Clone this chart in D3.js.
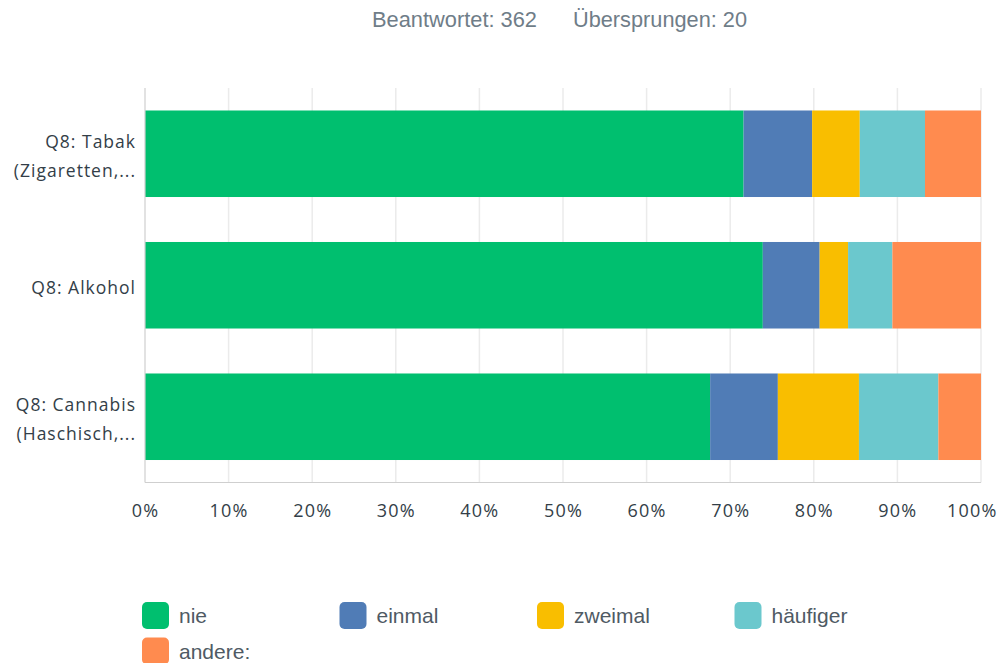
<!DOCTYPE html>
<html><head><meta charset="utf-8">
<script src="https://cdn.jsdelivr.net/npm/d3@7"></script>
<style>body{margin:0;background:#fff;} svg{display:block;}</style>
</head><body>
<svg id="chart" width="1000" height="663"></svg>
<script>
const categories = [["Q8: Tabak","(Zigaretten,..."],["Q8: Alkohol"],["Q8: Cannabis","(Haschisch,..."]];
const seriesNames = ["nie","einmal","zweimal","häufiger","andere:"];
const seriesColors = ["#00bf6f","#507cb6","#f9be00","#6bc8cd","#ff8b4f"];
const nie      = [71.6, 73.9, 67.6];
const einmal   = [8.2, 6.8, 8.1];
const zweimal  = [5.7, 3.4, 9.7];
const haeufiger= [7.8, 5.3, 9.5];
const andere   = [6.7, 10.6, 5.1];
const tickValues = [0,10,20,30,40,50,60,70,80,90,100];
const headerText = ["Beantwortet: 362","Übersprungen: 20"];

const seriesVals = [nie, einmal, zweimal, haeufiger, andere];
const rows = categories.map((c,i)=>{const o={idx:i}; seriesNames.forEach((s,j)=>o[s]=seriesVals[j][i]); return o;});
const stacked = d3.stack().keys(seriesNames)(rows);

const svg = d3.select("#chart");
const x = d3.scaleLinear().domain([0,100]).range([145,981]);
const y = d3.scaleBand().domain(d3.range(categories.length)).range([88,482.5]).paddingInner(0.342).paddingOuter(0.171);

// header
const hdr = svg.append("text").attr("y",27)
  .attr("font-family","Liberation Sans, Arial, sans-serif").attr("font-size",21.5).attr("fill","#6f7d88");
hdr.append("tspan").attr("x",372).attr("textLength",165).attr("lengthAdjust","spacingAndGlyphs").text(headerText[0]);
hdr.append("tspan").attr("x",573).attr("textLength",174).attr("lengthAdjust","spacingAndGlyphs").text(headerText[1]);

// grid
svg.append("g").selectAll("line").data(tickValues.slice(1)).join("line")
  .attr("x1",d=>x(d)).attr("x2",d=>x(d)).attr("y1",88).attr("y2",482.5)
  .attr("stroke","#ebebeb").attr("stroke-width",1.5);

// bars
svg.append("g").selectAll("g").data(stacked).join("g")
  .attr("fill",(d,i)=>seriesColors[i])
  .selectAll("rect").data(d=>d).join("rect")
  .attr("x",d=>x(d[0])).attr("width",d=>x(d[1])-x(d[0]))
  .attr("y",d=>y(d.data.idx)).attr("height",y.bandwidth());

// axes lines
svg.append("line").attr("x1",145).attr("x2",145).attr("y1",88).attr("y2",482.5).attr("stroke","#cfcfcf").attr("stroke-width",1.2);
svg.append("line").attr("x1",145).attr("x2",981).attr("y1",482.5).attr("y2",482.5).attr("stroke","#cfcfcf").attr("stroke-width",1.2);

// x axis labels
const xAxis = d3.axisBottom(x).tickValues(tickValues).tickFormat(d=>d+"%").tickSize(0).tickPadding(0);
const gx = svg.append("g").attr("transform","translate(0,517)").call(xAxis);
gx.select(".domain").remove();
gx.selectAll("text").attr("dy",0).attr("font-family","Open Sans, sans-serif").attr("font-size",18)
  .attr("fill","#333e48").attr("letter-spacing","1.2px");
gx.selectAll(".tick").filter(d=>d===100).select("text").attr("text-anchor","end").attr("x",997-981);

// y labels
const gy = svg.append("g");
categories.forEach((lines,i)=>{
  const cy = y(i)+y.bandwidth()/2;
  const t = gy.append("text").attr("text-anchor","end").attr("font-family","Open Sans, sans-serif")
    .attr("font-size",17.5).attr("fill","#333e48").attr("letter-spacing","1px");
  const n = lines.length;
  lines.forEach((ln,k)=>{
    t.append("tspan").attr("x",136).attr("y",cy+9+(k-(n-1)/2)*29).text(ln);
  });
});

// legend
const lg = svg.append("g");
seriesNames.forEach((s,i)=>{
  const col = i%4, row = Math.floor(i/4);
  const gx0 = 142 + col*197.5, gy0 = 602 + row*35.5;
  lg.append("rect").attr("x",gx0).attr("y",gy0).attr("width",27).attr("height",27).attr("rx",5).attr("fill",seriesColors[i]);
  lg.append("text").attr("x",gx0+37).attr("y",gy0+21).attr("font-family","Liberation Sans, Arial, sans-serif")
    .attr("font-size",21).attr("fill","#4f5a64").text(s);
});
</script>
</body></html>
